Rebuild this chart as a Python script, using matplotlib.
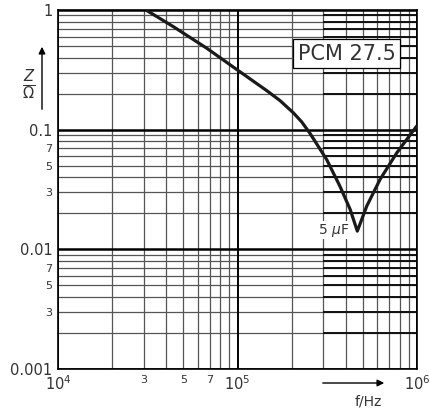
import matplotlib
matplotlib.use("Agg")
import matplotlib.pyplot as plt
from matplotlib.patches import FancyArrowPatch
from matplotlib.ticker import FixedLocator

# impedance curve (f in Hz, Z in Ohm)
freq = [3.09e4, 4.39e4, 6.73e4, 9.97e4, 1.455e5, 1.725e5, 2.05e5, 2.28e5, 2.53e5,
        3.14e5, 3.72e5, 4.24e5, 4.65e5, 5.25e5, 6.22e5, 7.71e5, 1.0e6]
z = [1.0, 0.726, 0.480, 0.316, 0.212, 0.175, 0.138, 0.116, 0.0935,
     0.0562, 0.0337, 0.0216, 0.0142, 0.0230, 0.0383, 0.0639, 0.108]

x_major = [1e4, 1e5, 1e6]
x_major_labels = ["$10^4$", "$10^5$", "$10^6$"]
x_minor_labeled = [3e4, 5e4, 7e4]
x_minor_labels = ["3", "5", "7"]

y_major = [0.001, 0.01, 0.1, 1]
y_major_labels = ["0.001", "0.01", "0.1", "1"]
y_minor_labeled = [0.003, 0.005, 0.007, 0.03, 0.05, 0.07]
y_minor_labels = ["3", "5", "7", "3", "5", "7"]

x_minor = [m * d for d in (1e4, 1e5) for m in range(2, 10)]
y_minor = [m * d for d in (0.001, 0.01, 0.1) for m in range(2, 10)]

txt = "#333333"
plt.rcParams['font.family'] = ['DejaVu Sans']

fig = plt.figure(figsize=(4.31, 4.15), dpi=100)
ax = fig.add_axes([58 / 431, 46 / 415, 359 / 431, 359 / 415])
ax.set_xscale("log")
ax.set_yscale("log")
ax.set_xlim(1e4, 1e6)
ax.set_ylim(0.001, 1)

# grid
for xv in x_minor:
    ax.axvline(xv, color="#555555", lw=0.9, zorder=1)
for yv in y_minor:
    ax.axhline(yv, color="#555555", lw=0.9, zorder=1)
ax.hlines(y_minor, 3e5, 1e6, color="#111111", lw=1.4, zorder=1.5)
for xv in x_major:
    ax.axvline(xv, color="black", lw=1.4, zorder=1.6)
for yv in y_major:
    ax.axhline(yv, color="black", lw=1.8, zorder=1.6)

for s in ax.spines.values():
    s.set_color("black")
    s.set_linewidth(1.2)

ax.plot(freq, z, color="#1a1a1a", lw=2.3, solid_joinstyle="round",
        solid_capstyle="butt", zorder=3)

# ticks
ax.tick_params(which="both", length=0, colors=txt)
ax.xaxis.set_major_locator(FixedLocator(x_major))
ax.set_xticklabels(x_major_labels, fontsize=10.5)
ax.xaxis.set_minor_locator(FixedLocator(x_minor_labeled))
ax.set_xticklabels(x_minor_labels, minor=True, fontsize=8)
ax.yaxis.set_major_locator(FixedLocator(y_major))
ax.set_yticklabels(y_major_labels, fontsize=10.5)
ax.yaxis.set_minor_locator(FixedLocator(y_minor_labeled))
ax.set_yticklabels(y_minor_labels, minor=True, fontsize=8)
ax.tick_params(axis="both", which="both", pad=4)

# annotations
ax.text(4.05e5, 0.43, "PCM 27.5", fontsize=15, color=txt, ha="center", va="center",
        zorder=4, bbox=dict(boxstyle="square,pad=0.22", fc="white", ec="black", lw=0.9))
ax.text(3.45e5, 0.0145, r"5 $\mu$F", fontsize=10, color=txt, ha="center", va="center",
        zorder=4, bbox=dict(boxstyle="square,pad=0.05", fc="white", ec="none"))

fig.text(29 / 431, 1 - 85 / 415, r"$\frac{Z}{\Omega}$", fontsize=15, color=txt,
         ha="center", va="center")
fig.add_artist(FancyArrowPatch(
    (42 / 431, 1 - 112 / 415), (42 / 431, 1 - 44 / 415), transform=fig.transFigure,
    arrowstyle="-|>,head_length=4,head_width=2", color="black", lw=1.0))
fig.add_artist(FancyArrowPatch(
    (320 / 431, 1 - 383 / 415), (387 / 431, 1 - 383 / 415), transform=fig.transFigure,
    arrowstyle="-|>,head_length=4,head_width=2", color="black", lw=1.0))
fig.text(368 / 431, 1 - 401 / 415, "f/Hz", fontsize=10, color=txt, ha="center", va="center")

fig.savefig("out.png", dpi=100)
